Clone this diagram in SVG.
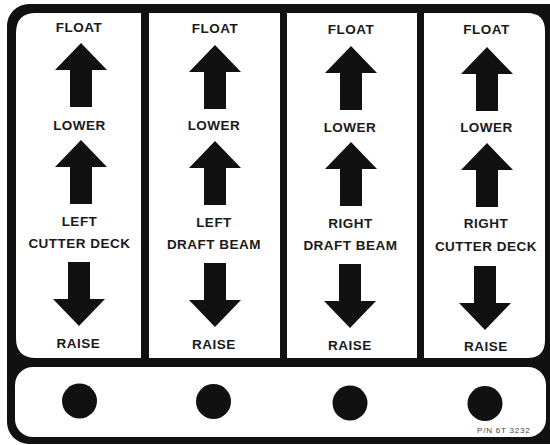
<svg xmlns="http://www.w3.org/2000/svg" width="550" height="445" viewBox="0 0 550 445">
  <style>
    .lbl { font-family: "Liberation Sans", Arial, sans-serif; font-weight: bold; font-size: 13.5px; letter-spacing: 0.5px; fill: #1a1a1a; text-anchor: middle; }
    .pn { font-family: "Liberation Sans", Arial, sans-serif; font-size: 8px; letter-spacing: 0.8px; fill: #444; }
    .panel { fill: #ffffff; }
    .ink { fill: #111111; }
  </style>
  <defs>
    <path id="up" d="M0,0 L26,27 L11,27 L11,64 L-11,64 L-11,27 L-26,27 Z"/>
    <path id="down" d="M-11,0 L11,0 L11,37 L26,37 L0,64 L-26,37 L-11,37 Z"/>
  </defs>
  <rect x="0" y="0" width="550" height="445" fill="#ffffff"/>
  <rect id="frame" x="7" y="4" width="565" height="440" rx="22" fill="#111111"/>

  <g id="panel-left-cutter-deck">
    <path class="panel" d="M36,13 L141,13 L141,358 L36,358 Q16,358 16,338 L16,33 Q16,13 36,13 Z"/>
    <text class="lbl" x="79" y="32">FLOAT</text>
    <use href="#up" class="ink" x="81" y="43"/>
    <text class="lbl" x="79.5" y="129.5">LOWER</text>
    <use href="#up" class="ink" x="81" y="140"/>
    <text class="lbl" x="79.5" y="226">LEFT</text>
    <text class="lbl" x="79.5" y="248">CUTTER DECK</text>
    <use href="#down" class="ink" x="79" y="262"/>
    <text class="lbl" x="78.5" y="347.5">RAISE</text>
  </g>

  <g id="panel-left-draft-beam">
    <rect class="panel" x="149" y="13" width="131" height="345"/>
    <text class="lbl" x="215" y="33">FLOAT</text>
    <use href="#up" class="ink" x="215" y="45"/>
    <text class="lbl" x="214" y="130">LOWER</text>
    <use href="#up" class="ink" x="215" y="141"/>
    <text class="lbl" x="214" y="227">LEFT</text>
    <text class="lbl" x="214" y="249">DRAFT BEAM</text>
    <use href="#down" class="ink" x="215" y="263"/>
    <text class="lbl" x="214" y="349">RAISE</text>
  </g>

  <g id="panel-right-draft-beam">
    <rect class="panel" x="287" y="13" width="130" height="345"/>
    <text class="lbl" x="351" y="34">FLOAT</text>
    <use href="#up" class="ink" x="351" y="46"/>
    <text class="lbl" x="350" y="131.5">LOWER</text>
    <use href="#up" class="ink" x="351" y="142"/>
    <text class="lbl" x="350.5" y="228">RIGHT</text>
    <text class="lbl" x="350.5" y="250">DRAFT BEAM</text>
    <use href="#down" class="ink" x="350" y="264"/>
    <text class="lbl" x="350" y="350">RAISE</text>
  </g>

  <g id="panel-right-cutter-deck">
    <path class="panel" d="M424,13 L527,13 Q545,13 545,31 L545,340 Q545,358 527,358 L424,358 Z"/>
    <text class="lbl" x="486.5" y="34">FLOAT</text>
    <use href="#up" class="ink" x="487" y="47"/>
    <text class="lbl" x="486.5" y="131.5">LOWER</text>
    <use href="#up" class="ink" x="487" y="143"/>
    <text class="lbl" x="486" y="228">RIGHT</text>
    <text class="lbl" x="486" y="250.5">CUTTER DECK</text>
    <use href="#down" class="ink" x="485" y="266"/>
    <text class="lbl" x="486" y="350.5">RAISE</text>
  </g>

  <g id="button-bar">
    <rect class="panel" x="15" y="367" width="531" height="70" rx="18"/>
    <circle class="ink" cx="79.5" cy="401" r="17.5"/>
    <circle class="ink" cx="213.5" cy="401.5" r="17.5"/>
    <circle class="ink" cx="350" cy="403" r="17.5"/>
    <circle class="ink" cx="485" cy="403.5" r="17.5"/>
    <text class="pn" x="477" y="433">P/N 6T 3232</text>
  </g>
</svg>
